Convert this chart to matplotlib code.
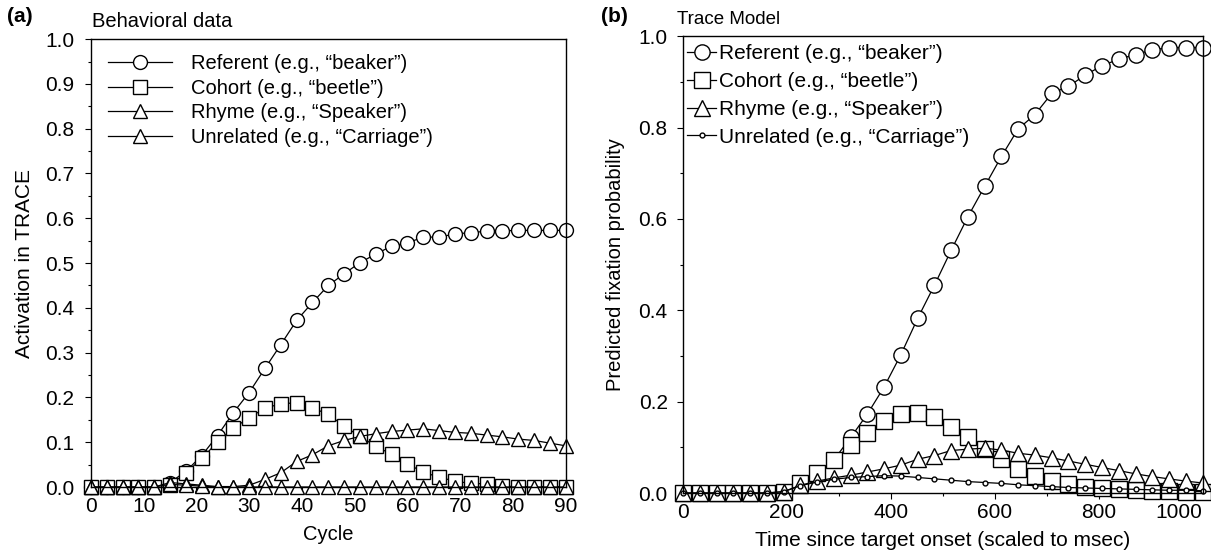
import numpy as np
import matplotlib
matplotlib.use('Agg')
import matplotlib.pyplot as plt
from matplotlib.ticker import MultipleLocator

plt.rcParams['font.family'] = ['Liberation Sans', 'DejaVu Sans']

# ---- panel (a): behavioral data, TRACE activation per cycle
cycles = list(range(0, 91, 3))
a_referent = [0, 0, 0, 0, 0, 0.01, 0.035, 0.07, 0.115, 0.166, 0.211, 0.265, 0.318, 0.372,
              0.412, 0.45, 0.476, 0.501, 0.52, 0.538, 0.545, 0.558, 0.558, 0.565, 0.568,
              0.571, 0.572, 0.573, 0.573, 0.573, 0.573]
a_cohort = [0, 0, 0, 0, 0, 0.005, 0.031, 0.064, 0.1, 0.131, 0.155, 0.176, 0.186, 0.188,
            0.177, 0.162, 0.136, 0.113, 0.091, 0.073, 0.052, 0.033, 0.022, 0.013, 0.008,
            0.007, 0.002, 0.001, 0.001, 0.001, 0.001]
a_rhyme = [0, 0, 0, 0, 0, 0.01, 0.007, 0.004, 0.001, 0.001, 0.004, 0.017, 0.032, 0.057,
           0.072, 0.092, 0.104, 0.113, 0.119, 0.124, 0.127, 0.13, 0.126, 0.122, 0.12,
           0.116, 0.112, 0.107, 0.104, 0.098, 0.092]
a_unrelated = [0, 0, 0, 0, 0, 0.006, 0.004, 0.002, 0, 0, 0, 0, 0, 0, 0, 0, 0, 0, 0, 0,
               0, 0, 0, 0, 0, 0, 0, 0, 0, 0, 0]

# ---- panel (b): TRACE model, predicted fixation probability
times = [0, 32, 65, 97, 129, 161, 194, 226, 258, 290, 323, 355, 387, 419, 452, 484,
         516, 548, 581, 613, 645, 677, 710, 742, 774, 806, 839, 871, 903, 935, 968, 1000]
b_referent = [0, 0, 0, 0, 0, 0, 0.003, 0.022, 0.042, 0.072, 0.122, 0.173, 0.232, 0.302,
              0.383, 0.455, 0.531, 0.604, 0.672, 0.737, 0.797, 0.828, 0.875, 0.89, 0.915,
              0.935, 0.95, 0.96, 0.97, 0.975, 0.975, 0.975]
b_cohort = [0, 0, 0, 0, 0, 0, 0.003, 0.023, 0.043, 0.072, 0.105, 0.131, 0.157, 0.173,
            0.176, 0.167, 0.145, 0.122, 0.097, 0.074, 0.053, 0.037, 0.027, 0.02, 0.014,
            0.01, 0.008, 0.006, 0.005, 0.004, 0.003, 0.003]
b_rhyme = [0, 0, 0, 0, 0, 0, 0.003, 0.017, 0.026, 0.033, 0.039, 0.046, 0.053, 0.061,
           0.074, 0.082, 0.093, 0.096, 0.098, 0.094, 0.087, 0.083, 0.077, 0.07, 0.063,
           0.056, 0.049, 0.042, 0.036, 0.031, 0.026, 0.022]
b_unrelated = [0, 0, 0, 0, 0, 0, 0.003, 0.016, 0.024, 0.03, 0.034, 0.036, 0.038, 0.037,
               0.034, 0.031, 0.028, 0.025, 0.023, 0.021, 0.018, 0.016, 0.014, 0.012,
               0.011, 0.01, 0.009, 0.008, 0.007, 0.006, 0.006, 0.005]

labels = ['Referent (e.g., \u201cbeaker\u201d)', 'Cohort (e.g., \u201cbeetle\u201d)',
          'Rhyme (e.g., \u201cSpeaker\u201d)', 'Unrelated (e.g., \u201cCarriage\u201d)']

fig = plt.figure(figsize=(12.11, 5.55), dpi=100)
ax1 = fig.add_axes([0.0751, 0.1225, 0.392, 0.807])
ax2 = fig.add_axes([0.564, 0.1117, 0.429, 0.823])

kw = dict(color='black', lw=0.9, mfc='white', mec='black', mew=1.0, clip_on=False)

ax1.plot(cycles, a_referent, marker='o', ms=10, label=labels[0], **kw)
ax1.plot(cycles, a_cohort, marker='s', ms=10, label=labels[1], **kw)
ax1.plot(cycles, a_rhyme, marker='^', ms=10, label=labels[2], **kw)
ax1.plot(cycles, a_unrelated, marker='^', ms=10, label=labels[3], **kw)

ax1.set_xlim(0, 90)
ax1.set_ylim(0, 1.0)
ax1.xaxis.set_major_locator(MultipleLocator(10))
ax1.yaxis.set_major_locator(MultipleLocator(0.1))
ax1.yaxis.set_minor_locator(MultipleLocator(0.05))
ax1.yaxis.set_major_formatter(plt.FormatStrFormatter('%.1f'))
ax1.set_xlabel('Cycle', fontsize=14.5, labelpad=6)
ax1.set_ylabel('Activation in TRACE', fontsize=15, labelpad=8)
ax1.legend(loc='upper left', frameon=False, fontsize=14.5, handlelength=3.2,
           handletextpad=0.9, labelspacing=0.27, borderaxespad=0.0, borderpad=0.0,
           bbox_to_anchor=(0.036, 0.966))
ax1.text(0.003, 1.018, 'Behavioral data', transform=ax1.transAxes, fontsize=14.5,
         ha='left', va='bottom')
fig.text(0.006, 0.971, '(a)', fontsize=15, fontweight='bold', ha='left', va='center')

ax2.plot(times, b_referent, marker='o', ms=11, label=labels[0], **kw)
ax2.plot(times, b_cohort, marker='s', ms=11, label=labels[1], **kw)
ax2.plot(times, b_rhyme, marker='^', ms=11, label=labels[2], **kw)
ax2.plot(times, b_unrelated, marker='o', ms=3.5, label=labels[3], **kw)

ax2.set_xlim(0, 1000)
ax2.set_ylim(0, 1.0)
ax2.xaxis.set_major_locator(MultipleLocator(200))
ax2.xaxis.set_minor_locator(MultipleLocator(100))
ax2.yaxis.set_major_locator(MultipleLocator(0.2))
ax2.yaxis.set_minor_locator(MultipleLocator(0.1))
ax2.yaxis.set_major_formatter(plt.FormatStrFormatter('%.1f'))
ax2.set_xlabel('Time since target onset (scaled to msec)', fontsize=15, labelpad=6)
ax2.set_ylabel('Predicted fixation probability', fontsize=14.5, labelpad=10)
ax2.legend(loc='upper left', frameon=False, fontsize=15, handlelength=1.4,
           handletextpad=0.15, labelspacing=0.42, borderaxespad=0.0, borderpad=0.0,
           bbox_to_anchor=(0.008, 0.982))
ax2.text(-0.012, 1.018, 'Trace Model', transform=ax2.transAxes, fontsize=13.5,
         ha='left', va='bottom')
fig.text(0.496, 0.971, '(b)', fontsize=15, fontweight='bold', ha='left', va='center')

for ax in (ax1, ax2):
    ax.tick_params(which='major', direction='out', length=4, width=0.8, labelsize=15)
    ax.tick_params(which='minor', direction='out', length=2.5, width=0.8)
    for sp in ax.spines.values():
        sp.set_linewidth(1.0)
ax1.tick_params(axis='y', which='major', pad=8)
ax2.tick_params(axis='y', which='major', pad=7)

# last x tick label in (b) kept inside the figure edge
fig.canvas.draw()
for lab in ax2.get_xticklabels():
    if lab.get_text() == '1000':
        lab.set_horizontalalignment('right')

fig.savefig('out.png', dpi=100)
